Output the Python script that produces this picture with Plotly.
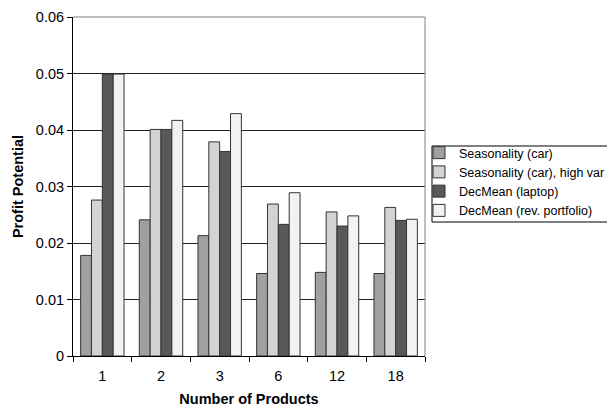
import plotly.graph_objects as go

categories = ["1", "2", "3", "6", "12", "18"]
series_names = [
    "Seasonality (car)",
    "Seasonality (car), high var",
    "DecMean (laptop)",
    "DecMean (rev. portfolio)",
]
seasonality_car = [0.0178, 0.0241, 0.0213, 0.0146, 0.0148, 0.0146]
seasonality_car_high_var = [0.0276, 0.0401, 0.0379, 0.0269, 0.0255, 0.0263]
decmean_laptop = [0.0499, 0.0401, 0.0362, 0.0233, 0.0230, 0.0240]
decmean_rev_portfolio = [0.0499, 0.0417, 0.0429, 0.0289, 0.0248, 0.0242]
y_ticks = [0, 0.01, 0.02, 0.03, 0.04, 0.05, 0.06]
y_tick_labels = ["0", "0.01", "0.02", "0.03", "0.04", "0.05", "0.06"]

colors = ["#a0a0a0", "#d3d3d3", "#595959", "#f2f2f2"]
values = [seasonality_car, seasonality_car_high_var, decmean_laptop, decmean_rev_portfolio]

font = "Liberation Sans"
OFF = 8  # page body margin of the browser
L, R, T, B = 73, 190, 17, 51
W, H = 615, 407
pw, ph = W - L - R, H - T - B


def px_x(x):
    return (x - L) / pw


def px_y(y):
    return (H - B - y) / ph


fig = go.Figure()
for name, vals, col in zip(series_names, values, colors):
    fig.add_trace(go.Bar(
        x=categories, y=vals, name=name,
        marker=dict(color=col, line=dict(color="#333333", width=1)),
    ))

fig.update_layout(
    width=W - OFF, height=H - OFF,
    margin=dict(l=L - OFF, r=R, t=T - OFF, b=B, autoexpand=False),
    paper_bgcolor="white", plot_bgcolor="white",
    barmode="group", bargap=0.26, bargroupgap=0,
    font=dict(family=font, size=14.5, color="black"),
    showlegend=True,
    legend=dict(
        x=px_x(419), y=px_y(138), xanchor="left", yanchor="top",
        borderwidth=0, bgcolor="rgba(0,0,0,0)",
        font=dict(size=12.5, family=font), tracegroupgap=0,
    ),
    xaxis=dict(
        type="category", showline=True, linecolor="black", linewidth=1,
        ticks="outside", tickson="boundaries", ticklen=5, tickcolor="black",
        ticklabelstandoff=7,
        showgrid=False, automargin=False,
        title=dict(text="<b>Number of Products</b>", font=dict(size=14.5), standoff=14),
    ),
    yaxis=dict(
        range=[0, 0.06], tickvals=y_ticks, ticktext=y_tick_labels,
        showline=True, linecolor="black", linewidth=1,
        ticks="outside", ticklen=5, tickcolor="black",
        showgrid=True, gridcolor="#222222", gridwidth=1, zeroline=False,
        automargin=False,
        title=dict(text="<b>Profit Potential</b>", font=dict(size=14.5), standoff=8),
    ),
    shapes=[
        dict(type="line", xref="paper", yref="paper", x0=0, x1=1, y0=1, y1=1,
             line=dict(color="#808080", width=1)),
        dict(type="line", xref="paper", yref="paper", x0=1, x1=1, y0=0, y1=1,
             line=dict(color="#808080", width=1)),
        dict(type="rect", xref="paper", yref="paper",
             x0=px_x(432), x1=px_x(640), y0=px_y(222), y1=px_y(146),
             line=dict(color="black", width=1), fillcolor="white", layer="below"),
    ],
)

fig.write_html("out.html")
